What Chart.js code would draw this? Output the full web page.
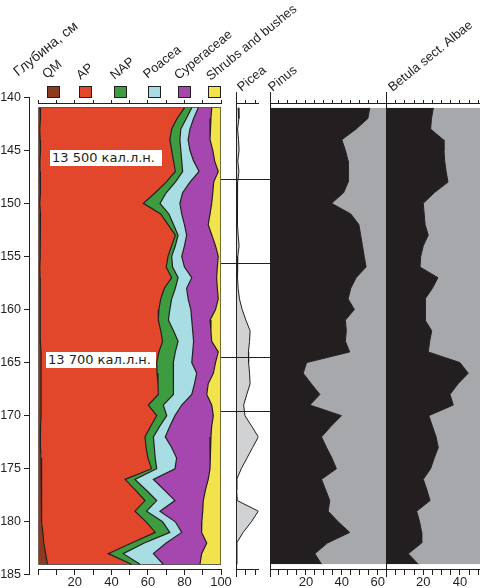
<!DOCTYPE html>
<html>
<head>
<meta charset="utf-8">
<script src="https://cdn.jsdelivr.net/npm/chart.js@4.4.1/dist/chart.umd.min.js"></script>
<style>
  html, body { margin: 0; padding: 0; background: #fff; }
  #wrap { position: relative; width: 480px; height: 588px; overflow: hidden; }
  #wrap canvas { position: absolute; left: 0; top: 0; }
  .hdr { position: absolute; height: 16px; line-height: 16px; font: 13px "Liberation Sans", Arial, sans-serif; color: #231f20; white-space: nowrap; transform-origin: 0 100%; transform: rotate(-39deg); }
  .key { position: absolute; top: 86px; width: 11px; height: 10px; border: 1px solid #231f20; }
  .age { position: absolute; background: #fff; font: 13px "DejaVu Sans", sans-serif; color: #231f20; height: 16px; line-height: 16px; padding-left: 2px; white-space: nowrap; }
</style>
</head>
<body>
<div id="wrap">
  <canvas id="depth" width="480" height="588"></canvas>
  <canvas id="main" width="480" height="588"></canvas>
  <canvas id="picea" width="480" height="588"></canvas>
  <canvas id="pinus" width="480" height="588"></canvas>
  <canvas id="betula" width="480" height="588"></canvas>
  <div class="age" style="left:50px; top:150px; width:110px;">13 500 кал.л.н.</div>
  <div class="age" style="left:46px; top:352px; width:108px;">13 700 кал.л.н.</div>
</div>
<script>
// sample depths, cm
const depths = [141, 142, 143, 144, 145, 146, 147, 148, 149, 150,
  151, 152, 153, 154, 155, 156, 157, 158, 159, 160,
  161, 162, 163, 164, 165, 166, 167, 168, 169, 170,
  171, 172, 173, 174, 175, 176, 177, 178, 179, 180,
  181, 182, 183, 184];

// percentages, main diagram (stacked to 100)
const qm = [1, 1.2, 0.8, 1, 1.2, 0.9, 1, 1.3, 1, 0.8,
  1.2, 1, 1, 1.2, 1, 0.8, 1, 1.2, 1, 1,
  1.3, 1, 1, 1.5, 1.5, 1.5, 1.5, 1.8, 1.5, 1.5,
  1.2, 1, 1.3, 1.5, 2, 1.5, 1.5, 2, 1.8, 2,
  2.5, 3, 4, 5];
const ap = [79, 74.8, 72.2, 71, 71.8, 73.1, 74, 68.7, 63, 56.7,
  65.8, 70, 74, 71.8, 70, 69.2, 72, 67.8, 66, 65,
  64.4, 66, 67, 64.5, 63.3, 63.5, 64, 63.9, 58.7, 63.3,
  60.3, 57.4, 57.7, 58.5, 60, 46, 51.5, 56.4, 51.1, 57,
  61.5, 48, 34.3, 46];
const nap = [4, 5, 5, 5.5, 5, 4.5, 4, 5, 6, 9.1,
  4.5, 3, 1.5, 2, 2, 3.5, 3.5, 6, 6, 6,
  5.5, 7, 8.5, 9, 9.1, 9, 8.5, 8.2, 8.2, 5.5,
  5, 4.6, 4.5, 4, 2.8, 5.4, 6, 6.4, 6.4, 9,
  8, 7, 8.2, 4.7];
const poacea = [3.6, 4, 5, 4.5, 5, 6.5, 9, 8, 9, 10.9,
  7, 6, 4.7, 5, 5.5, 6.5, 7.5, 6.2, 9, 11.5,
  12.8, 10.5, 8.5, 9.5, 10.1, 12.7, 11.5, 10.1, 10.1, 4.5,
  5.5, 6.5, 9.5, 11.7, 10, 10.1, 10, 10, 7.3, 7,
  6.5, 12, 16.5, 12.7];
const cyperaceae = [7.3, 9.5, 11, 12, 12.5, 11.5, 10.5, 13, 16.5, 17.4,
  15.5, 13, 13.8, 17, 20, 18, 13.6, 16.8, 16.5, 13.5,
  10, 10, 9.9, 14, 13, 9.1, 7.5, 8.2, 16.4, 21,
  22.9, 25, 21, 18.3, 19.2, 30, 22.5, 15.5, 23.4, 14.5,
  10.9, 22.2, 26.4, 20.1];
const shrubs = [5.1, 5.5, 6, 6, 4.5, 3.5, 1.5, 4, 4.5, 5.1,
  6, 7, 5, 3, 1.5, 2, 2.4, 2, 1.5, 3,
  6, 5.5, 5.1, 1.5, 3, 4.2, 7, 7.8, 5.1, 4.2,
  5.1, 5.5, 6, 6, 6, 7, 8.5, 9.7, 10, 10.5,
  10.6, 7.8, 10.6, 11.5];

// single taxa curves
const picea = [0.8, 1.2, 0.5, 1, 1.3, 0.6, 1.2, 0.5, 0.3, 0.4,
  0.5, 0.5, 0.8, 1.3, 0.6, 0.4, 0.5, 0.8, 1.5, 3,
  5, 7.3, 7, 6.4, 6.5, 7, 7.3, 5.5, 3.8, 4.5,
  8.2, 11.8, 8.7, 5.6, 2.5, 0, 0, 0.3, 11.8, 8,
  3.5, 0, 0, 0];
const pinus = [55.6, 54.5, 48, 40, 42, 43.5, 43.5, 43.5, 41, 34.3,
  45, 49.5, 50.5, 51.5, 52.5, 53.5, 48, 45, 43.5, 47,
  42, 42.5, 42, 44.4, 20.4, 18.5, 23, 27.8, 22.2, 39.8,
  34, 28.7, 31.5, 34.5, 37, 28.7, 31, 33.3, 32.4, 38,
  44.4, 32, 25, 28.7];
const betula = [25.5, 24.5, 24, 30.9, 31.3, 31.7, 32.5, 33.5, 26, 20,
  20.5, 21, 22.7, 20, 18.6, 18.2, 28, 25, 21, 21,
  21, 24.6, 23.5, 22.7, 40, 44.6, 39, 34.6, 36.4, 23,
  25, 27, 28.2, 26, 24, 20, 22, 23.7, 16.4, 18,
  19.1, 19.1, 11.8, 17.3];

// zone boundaries, cm
const zoneDepths = [147.7, 155.6, 164.5, 169.6];

// ticks and labels
const depthTicks = [140, 145, 150, 155, 160, 165, 170, 175, 180, 185];
const mainTicks = [0, 10, 20, 30, 40, 50, 60, 70, 80, 90, 100];
const mainLabels = [20, 40, 60, 80, 100];
const piceaTicks = [0, 5, 10];
const pinusTicks = [0, 5, 10, 15, 20, 25, 30, 35, 40, 45, 50, 55, 60];
const pinusLabels = [20, 40, 60];
const betulaTicks = [0, 5, 10, 15, 20, 25, 30, 35, 40, 45, 50];
const betulaLabels = [20, 40];

const INK = '#231f20';
const taxa = [
  { label: 'QM', data: qm, color: '#8c3b1e' },
  { label: 'AP', data: ap, color: '#e2472b' },
  { label: 'NAP', data: nap, color: '#3d9b40' },
  { label: 'Poacea', data: poacea, color: '#a9dde4' },
  { label: 'Cyperaceae', data: cyperaceae, color: '#a647b0' },
  { label: 'Shrubs and bushes', data: shrubs, color: '#f2e24b' },
];

// layout (pixels)
const W = 480, H = 588;
const TOP_PX = 97.2;       // pixel of depth 140
const PX_PER_CM = 10.615;
const PANEL_MIN = 139.6, PANEL_MAX = 185.2;
const AXIS_TOP = 140.56, AXIS_BOTTOM = 184.54;
const DEPTH_AXIS_X = 29;
const MAIN_LEFT = 38.3, MAIN_RIGHT = 221;
const PICEA_LEFT = 236.7, PICEA_RIGHT = 258.7;
const PINUS_LEFT = 270, PINUS_RIGHT = 386.7;
const BETULA_LEFT = 386.7, BETULA_RIGHT = 480;
const KEY_LEFT = [47, 79, 114, 148, 178, 208];
const HEAD_POS = [[49, 82], [83, 83], [117, 83], [150, 82], [181, 83], [213, 84]];

Chart.defaults.font.family = '"Liberation Sans", Arial, sans-serif';
Chart.defaults.color = INK;

const pts = (vals) => vals.map((v, i) => ({ x: v, y: depths[i] }));

function baseOptions(left, right, yMin, yMax) {
  const top = TOP_PX + (yMin - 140) * PX_PER_CM;
  const bottom = H - (TOP_PX + (yMax - 140) * PX_PER_CM);
  return {
    responsive: false,
    animation: false,
    devicePixelRatio: 1,
    indexAxis: 'y',
    layout: { padding: { left, right: W - right, top, bottom } },
    plugins: { legend: { display: false }, tooltip: { enabled: false } },
    elements: { point: { radius: 0 }, line: { tension: 0 } },
  };
}

function valueAxis(max, ticks, labels, position, tickLength) {
  return {
    type: 'linear',
    axis: 'x',
    position,
    min: 0,
    max,
    stacked: true,
    afterBuildTicks: (s) => { s.ticks = ticks.map((value) => ({ value })); },
    grid: { display: true, drawOnChartArea: false, drawTicks: true, tickLength, color: INK, lineWidth: 1 },
    border: { display: true, color: INK, width: 1 },
    ticks: {
      display: labels.length > 0,
      autoSkip: false,
      maxRotation: 0,
      padding: 0,
      font: { size: 13 },
      color: INK,
      callback: (v) => (labels.includes(v) ? String(v) : ''),
    },
  };
}

function panelScales(max, ticks, labels, showEdge) {
  return {
    x: valueAxis(max, ticks, labels, { y: AXIS_BOTTOM }, 5),
    xTop: valueAxis(max, ticks, [], { y: AXIS_TOP }, -4),
    y: {
      type: 'linear',
      min: PANEL_MIN,
      max: PANEL_MAX,
      reverse: true,
      display: showEdge,
      ticks: { display: false },
      grid: { display: false, drawTicks: false },
      border: { display: true, color: INK, width: 1 },
      afterFit: (s) => { s.width = 0; },
    },
  };
}

// depth axis
new Chart(document.getElementById('depth'), {
  type: 'line',
  data: { datasets: [] },
  options: {
    ...baseOptions(0, W, 140, 185),
    scales: {
      x: { type: 'linear', display: false, min: 0, max: 1 },
      y: {
        type: 'linear',
        position: 'left',
        min: 140,
        max: 185,
        reverse: true,
        afterBuildTicks: (s) => { s.ticks = depthTicks.map((value) => ({ value })); },
        afterFit: (s) => { s.width = DEPTH_AXIS_X; },
        grid: { display: true, drawOnChartArea: false, tickLength: 5, color: INK },
        border: { display: true, color: INK, width: 1 },
        ticks: { padding: 3, font: { size: 12.5 }, color: INK },
      },
    },
  },
});

// main stacked diagram
const first = depths[0];
const last = depths[depths.length - 1];
const mainDatasets = taxa.map((t, i) => ({
  label: t.label,
  data: pts(t.data),
  xAxisID: 'x',
  yAxisID: 'y',
  backgroundColor: t.color,
  borderColor: INK,
  borderWidth: 1.2,
  fill: i === 0 ? 'origin' : '-1',
}));
mainDatasets.push({
  label: 'frame',
  data: [{ x: 100, y: first }, { x: 0, y: first }, { x: 0, y: last }, { x: 100, y: last }],
  xAxisID: 'x',
  yAxisID: 'y',
  stack: 'frame',
  fill: false,
  borderColor: INK,
  borderWidth: 1.2,
});

new Chart(document.getElementById('main'), {
  type: 'line',
  data: { datasets: mainDatasets },
  options: {
    ...baseOptions(MAIN_LEFT, MAIN_RIGHT, PANEL_MIN, PANEL_MAX),
    scales: panelScales(100, mainTicks, mainLabels, false),
  },
});

// zone lines between the main diagram and Pinus
const zoneLines = {
  id: 'zoneLines',
  afterDatasetsDraw(chart) {
    const { ctx } = chart;
    const y = chart.scales.y;
    ctx.save();
    ctx.strokeStyle = INK;
    ctx.lineWidth = 1.2;
    zoneDepths.forEach((d) => {
      const py = Math.round(y.getPixelForValue(d)) + 0.5;
      ctx.beginPath();
      ctx.moveTo(MAIN_RIGHT, py);
      ctx.lineTo(PINUS_LEFT, py);
      ctx.stroke();
    });
    ctx.restore();
  },
};

new Chart(document.getElementById('picea'), {
  type: 'line',
  data: {
    datasets: [{
      label: 'Picea',
      data: pts(picea),
      xAxisID: 'x',
      yAxisID: 'y',
      backgroundColor: '#d1d2d4',
      borderColor: INK,
      borderWidth: 1,
      fill: 'origin',
    }],
  },
  options: {
    ...baseOptions(PICEA_LEFT, PICEA_RIGHT, PANEL_MIN, PANEL_MAX),
    scales: panelScales(12, piceaTicks, [], true),
  },
  plugins: [zoneLines],
});

function silhouette(canvasId, label, values, left, right, max, ticks, labels) {
  new Chart(document.getElementById(canvasId), {
    type: 'line',
    data: {
      datasets: [
        {
          label,
          data: pts(values),
          xAxisID: 'x',
          yAxisID: 'y',
          backgroundColor: INK,
          borderColor: INK,
          borderWidth: 1,
          fill: 'origin',
        },
        {
          label: label + ' rest',
          data: pts(values),
          xAxisID: 'x',
          yAxisID: 'y',
          stack: 'rest',
          backgroundColor: '#a6a8ab',
          borderWidth: 0,
          fill: { value: max },
        },
      ],
    },
    options: {
      ...baseOptions(left, right, PANEL_MIN, PANEL_MAX),
      scales: panelScales(max, ticks, labels, true),
    },
  });
}

silhouette('pinus', 'Pinus', pinus, PINUS_LEFT, PINUS_RIGHT, 65, pinusTicks, pinusLabels);
silhouette('betula', 'Betula sect. Albae', betula, BETULA_LEFT, BETULA_RIGHT, 51, betulaTicks, betulaLabels);

// column headers and colour keys
const wrap = document.getElementById('wrap');
function addHeader(text, x, y, size) {
  const el = document.createElement('div');
  el.className = 'hdr';
  el.textContent = text;
  el.style.left = x + 'px';
  el.style.top = (y - 16) + 'px';
  if (size) el.style.fontSize = size + 'px';
  wrap.appendChild(el);
}
addHeader('Глубина, см', 20, 79, 14);
taxa.forEach((t, i) => {
  addHeader(t.label, HEAD_POS[i][0], HEAD_POS[i][1]);
  const key = document.createElement('div');
  key.className = 'key';
  key.style.left = KEY_LEFT[i] + 'px';
  key.style.background = t.color;
  wrap.appendChild(key);
});
addHeader('Picea', 243.5, 95);
addHeader('Pinus', 275, 95);
addHeader('Betula sect. Albae', 395, 95);
</script>
</body>
</html>
